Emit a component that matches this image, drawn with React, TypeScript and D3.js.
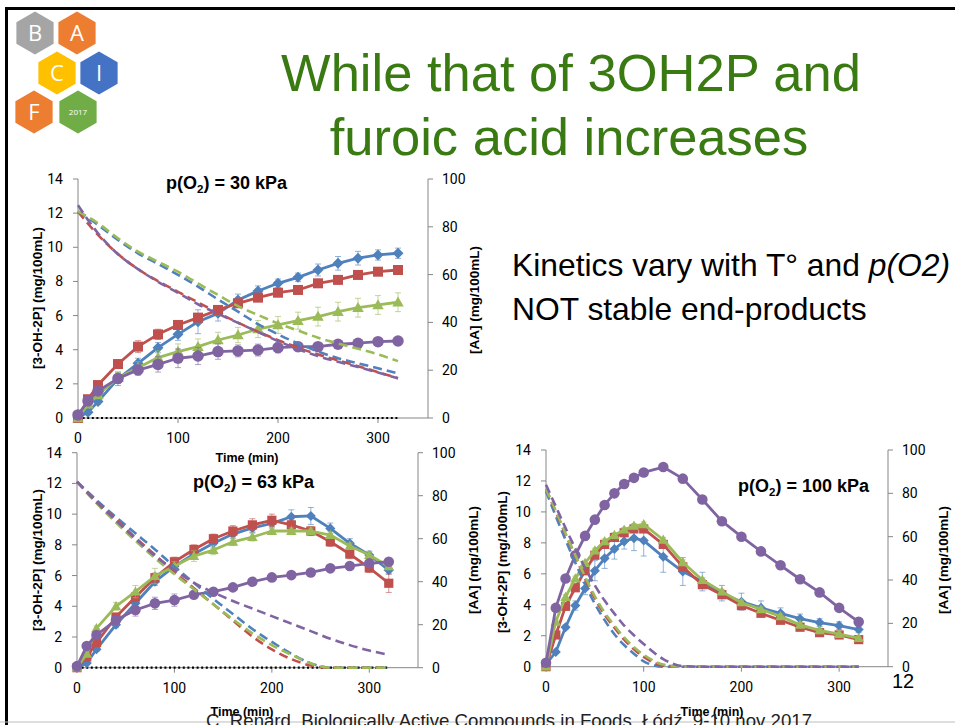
import React from 'react';
import * as d3 from 'd3';

// series colours (Office 2007 palette)
const BLUE = '#4f81bd';
const RED = '#c0504d';
const GREEN = '#9bbb59';
const PURPLE = '#8064a2';

// sampling times (min)
const timesAB = [0, 10, 20, 40, 60, 80, 100, 120, 140, 160, 180, 200, 220, 240, 260, 280, 300, 320];
const dashTimesAB = [0, 20, 40, 60, 80, 100, 120, 140, 160, 180, 200, 220, 240, 260, 280, 300, 320];
const timesC = [0, 10, 20, 30, 40, 50, 60, 70, 80, 90, 100, 120, 140, 160, 180, 200, 220, 240, 260, 280, 300, 320];

// p(O2) = 30 kPa : [3-OH-2P] (left axis)
const blue30 = [0.05, 0.33, 0.96, 2.3, 3.2, 4.12, 4.9, 5.64, 6.13, 6.91, 7.44, 7.89, 8.24, 8.67, 9.06, 9.36, 9.55, 9.65];
const red30 = [0, 1.1, 1.93, 3.16, 4.18, 4.9, 5.45, 5.88, 6.33, 6.72, 7.05, 7.34, 7.5, 7.89, 8.09, 8.38, 8.57, 8.67];
const green30 = [0, 0.8, 1.35, 2.36, 2.95, 3.54, 3.89, 4.18, 4.57, 4.86, 5.21, 5.45, 5.7, 5.94, 6.23, 6.46, 6.62, 6.78];
const purple30 = [0.18, 1.0, 1.58, 2.32, 2.81, 3.14, 3.5, 3.63, 3.89, 3.93, 3.98, 4.12, 4.18, 4.18, 4.32, 4.38, 4.47, 4.51];
const blue30Err = [0, 0.1, 0.15, 0.4, 0.3, 0.3, 0.35, 0.7, 0.45, 0.35, 0.3, 0.25, 0.25, 0.35, 0.4, 0.4, 0.3, 0.3];
const red30Err = [0, 0.1, 0.15, 0.25, 0.35, 0.3, 0.25, 0.2, 0.2, 0.2, 0.2, 0.15, 0.15, 0.15, 0.15, 0.15, 0.15, 0.15];
const green30Err = [0, 0.1, 0.2, 0.3, 0.35, 0.4, 0.45, 0.45, 0.45, 0.45, 0.5, 0.5, 0.5, 0.55, 0.55, 0.55, 0.55, 0.55];
const purple30Err = [0, 0.1, 0.15, 0.3, 0.3, 0.45, 0.55, 0.5, 0.45, 0.35, 0.35, 0.3, 0.25, 0.2, 0.2, 0.15, 0.15, 0.15];
// [AA] (right axis)
const blueAA30 = [86.5, 80.8, 74.5, 68.9, 64.5, 59.9, 55.0, 49.6, 44.5, 39.3, 35.0, 31.2, 27.8, 25.0, 22.9, 20.8, 18.7];
const redAA30 = [86.3, 76.6, 68.6, 62.3, 57.3, 52.8, 48.4, 44.0, 39.9, 36.1, 32.6, 29.4, 26.6, 24.1, 21.7, 19.2, 16.6];
const greenAA30 = [86.5, 81.5, 75.2, 69.6, 65.4, 61.2, 56.3, 51.5, 46.8, 43.1, 39.6, 36.6, 33.6, 31.2, 29.0, 26.6, 23.8];
const purpleAA30 = [89, 77.3, 68.5, 62.3, 57, 52.4, 47.6, 43.6, 39.8, 36.0, 32.2, 28.8, 25.9, 23.5, 21.3, 19.0, 16.6];

// p(O2) = 63 kPa
const blue63 = [0, 0.3, 1.2, 2.8, 4.2, 5.6, 6.6, 7.4, 8.1, 8.7, 9.1, 9.4, 9.83, 9.88, 9.07, 8.1, 7.34, 6.35];
const red63 = [0, 0.7, 1.63, 3.3, 4.6, 5.86, 6.9, 7.7, 8.4, 8.9, 9.3, 9.6, 9.3, 8.9, 8.2, 7.4, 6.5, 5.5];
const green63 = [0, 0.9, 2.56, 4.0, 4.95, 5.97, 6.6, 7.27, 7.66, 8.2, 8.5, 8.9, 8.9, 8.9, 8.64, 7.92, 7.34, 6.6];
const purple63 = [0.1, 1.41, 2.13, 3.1, 3.76, 4.19, 4.4, 4.75, 4.95, 5.23, 5.6, 5.88, 6.03, 6.2, 6.47, 6.62, 6.8, 6.9];
const blue63Err = [0, 0.1, 0.15, 0.2, 0.25, 0.25, 0.3, 0.3, 0.3, 0.3, 0.3, 0.3, 0.45, 0.55, 0.35, 0.3, 0.25, 0.25];
const red63Err = [0, 0.1, 0.15, 0.2, 0.3, 0.3, 0.3, 0.3, 0.3, 0.35, 0.4, 0.4, 0.3, 0.3, 0.3, 0.3, 0.3, 0.6];
const green63Err = [0, 0.1, 0.15, 0.25, 0.4, 0.5, 0.3, 0.35, 0.3, 0.25, 0.25, 0.2, 0.2, 0.2, 0.2, 0.2, 0.2, 0.2];
const purple63Err = [0, 0.1, 0.15, 0.2, 0.4, 0.4, 0.4, 0.2, 0.2, 0.15, 0.15, 0.15, 0.15, 0.15, 0.15, 0.15, 0.15, 0.15];
const blueAA63 = [86.5, 78, 70, 62.5, 55, 47, 39.5, 32, 25, 18, 12, 6.5, 2, 0, 0, 0, 0];
const redAA63 = [86.5, 77.5, 69, 60.5, 52.5, 44.5, 37, 29.5, 22, 14.5, 8.5, 4, 1, 0, 0, 0, 0];
const greenAA63 = [86.5, 76.5, 67.5, 59, 51, 43.5, 36.5, 29.5, 22.5, 16, 10.5, 6, 2, 0, 0, 0, 0];
const purpleAA63 = [86.5, 77, 68.5, 60, 52, 45.5, 39.5, 35, 31, 27.5, 24, 20.5, 17, 13.5, 10.5, 8, 6];

// p(O2) = 100 kPa
const blue100 = [0.15, 0.95, 2.55, 3.95, 5.05, 6.2, 7.0, 7.6, 8.1, 8.3, 8.15, 7.1, 6.15, 5.5, 4.75, 4.2, 3.8, 3.45, 3.1, 2.85, 2.65, 2.4];
const red100 = [0, 2.05, 3.9, 5.1, 6.2, 7.2, 7.9, 8.35, 8.65, 8.9, 8.9, 7.9, 6.45, 5.3, 4.65, 3.95, 3.45, 3.0, 2.55, 2.2, 2.05, 1.75];
const green100 = [0, 2.9, 4.5, 5.7, 6.7, 7.5, 8.1, 8.5, 8.85, 9.1, 9.2, 8.2, 6.75, 5.6, 4.85, 4.15, 3.7, 3.25, 2.7, 2.35, 2.1, 1.85];
const purple100 = [0.25, 3.8, 5.7, 7.2, 8.45, 9.5, 10.45, 11.2, 11.8, 12.2, 12.55, 12.9, 12.15, 10.8, 9.4, 8.4, 7.45, 6.55, 5.65, 4.8, 3.8, 2.9];
const blue100Err = [0, 0.1, 0.15, 0.3, 0.4, 0.65, 0.65, 0.65, 0.5, 0.8, 1.0, 1.0, 0.9, 0.6, 0.5, 0.55, 0.45, 0.35, 0.3, 0.25, 0.25, 0.2];
const red100Err = [0, 0.1, 0.15, 0.2, 0.2, 0.2, 0.2, 0.2, 0.2, 0.2, 0.2, 0.2, 0.2, 0.2, 0.2, 0.2, 0.15, 0.15, 0.15, 0.15, 0.15, 0.15];
const green100Err = [0, 0.1, 0.15, 0.15, 0.15, 0.15, 0.15, 0.15, 0.15, 0.15, 0.15, 0.15, 0.15, 0.15, 0.15, 0.15, 0.15, 0.15, 0.15, 0.15, 0.15, 0.15];
const purple100Err = [0, 0.1, 0.1, 0.1, 0.1, 0.1, 0.1, 0.1, 0.1, 0.1, 0.1, 0.1, 0.1, 0.1, 0.1, 0.1, 0.1, 0.1, 0.1, 0.1, 0.1, 0.1];
const blueAA100 = [81, 69.5, 58.5, 48, 38, 29, 21.5, 15, 10, 6, 2.5, 0, 0, 0, 0, 0, 0, 0, 0, 0, 0, 0];
const redAA100 = [82, 71.5, 61, 51, 40.5, 31.5, 24, 18, 12.5, 8, 4.5, 0.5, 0, 0, 0, 0, 0, 0, 0, 0, 0, 0];
const greenAA100 = [82, 72, 61.5, 51.5, 41.5, 32.5, 25, 19, 13.5, 9, 5.5, 1, 0, 0, 0, 0, 0, 0, 0, 0, 0, 0];
const purpleAA100 = [84, 74, 64, 54.5, 45.5, 37.5, 30.5, 24.5, 19, 14.5, 10.5, 3.5, 0.3, 0, 0, 0, 0, 0, 0, 0, 0, 0];

const leftTicks = [0, 2, 4, 6, 8, 10, 12, 14];
const rightTicks = [0, 20, 40, 60, 80, 100];
const timeTicks = [0, 100, 200, 300];

const AXIS = '#868686';
const TICK_FONT = 'Roboto, "Liberation Sans", sans-serif';
const ARIAL = '"Liberation Sans", Arial, sans-serif';

function markerPath(kind, s) {
  if (kind === 'diamond') return `M0,${-s * 1.1}L${s * 1.1},0L0,${s * 1.1}L${-s * 1.1},0Z`;
  if (kind === 'square') return `M${-s},${-s}H${s}V${s}H${-s}Z`;
  if (kind === 'triangle') return `M0,${-s * 1.15}L${s * 1.15},${s * 0.85}L${-s * 1.15},${s * 0.85}Z`;
  return d3.symbol().type(d3.symbolCircle).size(Math.PI * (s * 1.15) * (s * 1.15))();
}

function Panel({ cfg }) {
  const x = d3.scaleLinear().domain([0, 350]).range([cfg.left, cfg.right]);
  const y = d3.scaleLinear().domain([0, 14]).range([cfg.bottom, cfg.top]);
  const yR = d3.scaleLinear().domain([0, 100]).range([cfg.bottom, cfg.top]);

  const solid = d3.line().x((d) => x(d[0])).y((d) => y(d[1]));
  const dashed = d3.line().x((d) => x(d[0])).y((d) => yR(d[1])).curve(d3.curveMonotoneX);

  return (
    <g>
      {/* axes */}
      <line x1={cfg.left} x2={cfg.right} y1={cfg.bottom} y2={cfg.bottom} stroke={AXIS} />
      <line x1={cfg.left} x2={cfg.left} y1={cfg.bottom} y2={cfg.top} stroke={AXIS} />
      <line x1={cfg.right} x2={cfg.right} y1={cfg.bottom} y2={cfg.top} stroke={AXIS} />
      {leftTicks.map((t) => (
        <g key={'l' + t}>
          <line x1={cfg.left - 5} x2={cfg.left} y1={y(t)} y2={y(t)} stroke={AXIS} />
          <text x={cfg.left - 15} y={y(t) + 5} textAnchor="end" fontSize={14} fontFamily={TICK_FONT}>{t}</text>
        </g>
      ))}
      {rightTicks.map((t) => (
        <g key={'r' + t}>
          <line x1={cfg.right} x2={cfg.right + 5} y1={yR(t)} y2={yR(t)} stroke={AXIS} />
          <text x={cfg.right + 14} y={yR(t) + 5} fontSize={14} fontFamily={TICK_FONT}>{t}</text>
        </g>
      ))}
      {timeTicks.map((t) => (
        <g key={'x' + t}>
          <line x1={x(t)} x2={x(t)} y1={cfg.bottom} y2={cfg.bottom + 5} stroke={AXIS} />
          <text x={x(t)} y={cfg.bottom + 25} textAnchor="middle" fontSize={14} fontFamily={TICK_FONT}>{t}</text>
        </g>
      ))}

      {/* axis titles */}
      <text x={cfg.timeX} y={cfg.timeY} textAnchor="middle" fontSize={12.5} fontWeight="bold" fontFamily={ARIAL}>Time (min)</text>
      <text transform={`translate(${cfg.yTitleX},${cfg.yTitleY}) rotate(-90)`} textAnchor="middle" fontSize={13.5} fontWeight="bold" fontFamily={ARIAL}>[3-OH-2P] (mg/100mL)</text>
      <text transform={`translate(${cfg.yRTitleX},${cfg.yRTitleY}) rotate(-90)`} textAnchor="middle" fontSize={13.5} fontWeight="bold" fontFamily={ARIAL}>[AA] (mg/100mL)</text>

      {/* chart title */}
      <text x={cfg.titleX} y={cfg.titleY} fontSize={18} fontWeight="bold" fontFamily={ARIAL}>
        p(O<tspan fontSize={11.5} dy={4}>2</tspan><tspan dy={-4}>) = {cfg.kpa} kPa</tspan>
      </text>

      {cfg.dotted && (
        <line x1={x(0)} x2={x(320)} y1={y(0)} y2={y(0)} stroke="#000" strokeWidth={2.2} strokeDasharray="2,2.6" />
      )}

      {/* 3-OH-2P series */}
      {cfg.series.map((s, si) => {
        const pts = cfg.times.map((t, i) => [t, s.values[i]]);
        return (
          <g key={'s' + si}>
            <path d={solid(pts)} fill="none" stroke={s.color} strokeWidth={2.8} strokeLinejoin="round" />
            {pts.map((p, i) => s.errors[i] > 0 ? (
              <g key={'e' + i} stroke={s.color} strokeOpacity={0.6} strokeWidth={1}>
                <line x1={x(p[0])} x2={x(p[0])} y1={y(p[1] - s.errors[i])} y2={y(p[1] + s.errors[i])} />
                <line x1={x(p[0]) - 3} x2={x(p[0]) + 3} y1={y(p[1] + s.errors[i])} y2={y(p[1] + s.errors[i])} />
                <line x1={x(p[0]) - 3} x2={x(p[0]) + 3} y1={y(p[1] - s.errors[i])} y2={y(p[1] - s.errors[i])} />
              </g>
            ) : null)}
            {pts.map((p, i) => (
              <path key={'m' + i} d={markerPath(s.marker, cfg.ms)} transform={`translate(${x(p[0])},${y(p[1])})`} fill={s.color} />
            ))}
          </g>
        );
      })}

      {/* AA series (secondary axis) */}
      {cfg.dashed.map((s, si) => (
        <path key={'d' + si} d={dashed(cfg.dashTimes.map((t, i) => [t, s.values[i]]))}
          fill="none" stroke={s.color} strokeWidth={2.6} strokeDasharray="9,5" />
      ))}
    </g>
  );
}

const panels = [
  {
    left: 78, right: 428, bottom: 418, top: 179, ms: 5,
    titleX: 166, titleY: 189, kpa: '30',
    timeX: 247, timeY: 462, yTitleX: 42, yTitleY: 298, yRTitleX: 479, yRTitleY: 300,
    dotted: true, times: timesAB, dashTimes: dashTimesAB,
    series: [
      { color: BLUE, marker: 'diamond', values: blue30, errors: blue30Err },
      { color: RED, marker: 'square', values: red30, errors: red30Err },
      { color: GREEN, marker: 'triangle', values: green30, errors: green30Err },
      { color: PURPLE, marker: 'circle', values: purple30, errors: purple30Err },
    ],
    dashed: [
      { color: BLUE, values: blueAA30 },
      { color: RED, values: redAA30 },
      { color: GREEN, values: greenAA30 },
      { color: PURPLE, values: purpleAA30 },
    ],
  },
  {
    left: 77, right: 418, bottom: 667.7, top: 452.7, ms: 4.6,
    titleX: 193, titleY: 488, kpa: '63',
    timeX: 242, timeY: 716, yTitleX: 42, yTitleY: 560, yRTitleX: 478, yRTitleY: 560,
    dotted: true, times: timesAB, dashTimes: dashTimesAB,
    series: [
      { color: BLUE, marker: 'diamond', values: blue63, errors: blue63Err },
      { color: RED, marker: 'square', values: red63, errors: red63Err },
      { color: GREEN, marker: 'triangle', values: green63, errors: green63Err },
      { color: PURPLE, marker: 'circle', values: purple63, errors: purple63Err },
    ],
    dashed: [
      { color: BLUE, values: blueAA63 },
      { color: RED, values: redAA63 },
      { color: GREEN, values: greenAA63 },
      { color: PURPLE, values: purpleAA63 },
    ],
  },
  {
    left: 546, right: 888, bottom: 666.7, top: 450, ms: 4.6,
    titleX: 738, titleY: 492, kpa: '100',
    timeX: 712, timeY: 716, yTitleX: 507, yTitleY: 562, yRTitleX: 948, yRTitleY: 560,
    dotted: false, times: timesC, dashTimes: timesC,
    series: [
      { color: BLUE, marker: 'diamond', values: blue100, errors: blue100Err },
      { color: RED, marker: 'square', values: red100, errors: red100Err },
      { color: GREEN, marker: 'triangle', values: green100, errors: green100Err },
      { color: PURPLE, marker: 'circle', values: purple100, errors: purple100Err },
    ],
    dashed: [
      { color: BLUE, values: blueAA100 },
      { color: RED, values: redAA100 },
      { color: GREEN, values: greenAA100 },
      { color: PURPLE, values: purpleAA100 },
    ],
  },
];

// logo hexagons
const logoHexes = [
  { cx: 35, cy: 33, fill: '#a5a5a5', label: 'B' },
  { cx: 77, cy: 33, fill: '#ed7d31', label: 'A' },
  { cx: 57, cy: 73, fill: '#ffc000', label: 'C' },
  { cx: 99, cy: 73, fill: '#4472c4', label: 'I' },
  { cx: 34, cy: 112, fill: '#ed7d31', label: 'F' },
  { cx: 78, cy: 112, fill: '#70ad47', label: '2017' },
];

function hexPath(cx, cy, r) {
  const pts = d3.range(6).map((i) => {
    const a = (Math.PI / 180) * (-90 + 60 * i);
    return [cx + r * Math.cos(a), cy + r * Math.sin(a)];
  });
  return 'M' + pts.map((p) => p.join(',')).join('L') + 'Z';
}

export default function App() {
  return (
    <svg width={955} height={725} style={{ position: 'absolute', left: 0, top: 0, background: '#fff' }}>
      {/* slide frame */}
      <line x1={6.5} x2={955} y1={8.5} y2={8.5} stroke="#000" strokeWidth={3} />
      <line x1={6.5} x2={6.5} y1={7} y2={725} stroke="#000" strokeWidth={3} />

      {logoHexes.map((h) => (
        <g key={h.label}>
          <path d={hexPath(h.cx, h.cy, 21.5)} fill={h.fill} />
          <text x={h.cx} y={h.label === '2017' ? h.cy + 3 : h.cy + 8} textAnchor="middle" fill="#fff"
            fontSize={h.label === '2017' ? 8 : 22} fontFamily='"Open Sans", sans-serif'>{h.label}</text>
        </g>
      ))}

      <text x={571} y={91} textAnchor="middle" fontSize={52.5} fill="#3a7a12" fontFamily={ARIAL}>While that of 3OH2P and</text>
      <text x={569} y={155} textAnchor="middle" fontSize={52.5} fill="#3a7a12" fontFamily={ARIAL}>furoic acid increases</text>

      <text x={512} y={276} fontSize={31.8} fontFamily={ARIAL}>Kinetics vary with T° and <tspan fontStyle="italic">p(O2)</tspan></text>
      <text x={512} y={320} fontSize={31.8} fontFamily={ARIAL}>NOT stable end-products</text>

      {panels.map((p, i) => <Panel key={i} cfg={p} />)}

      <text x={892} y={688} fontSize={20} fontFamily={ARIAL}>12</text>
      <line x1={0} x2={955} y1={722} y2={722} stroke="#bdbdbd" strokeWidth={1} />
      <text x={206} y={727} fontSize={19} fontFamily={ARIAL} fill="#222" textLength={606} lengthAdjust="spacingAndGlyphs">
        C. Renard, Biologically Active Compounds in Foods, Łódź, 9-10 nov 2017
      </text>
    </svg>
  );
}
